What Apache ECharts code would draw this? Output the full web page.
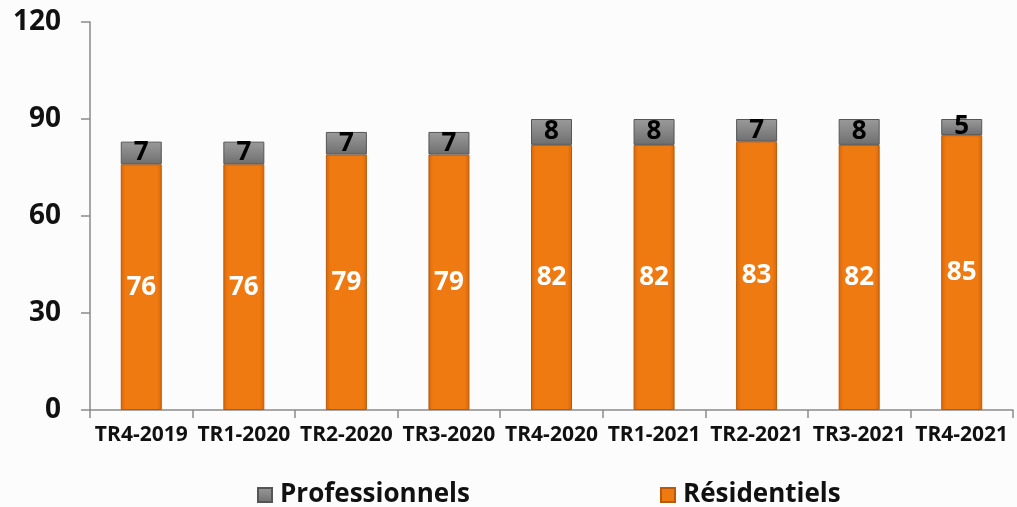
<!DOCTYPE html>
<html><head><meta charset="utf-8">
<script src="https://cdn.jsdelivr.net/npm/echarts@6/dist/echarts.min.js"></script>
<style>html,body{margin:0;padding:0;background:#fcfcfc;}#c{width:1017px;height:507px;}</style>
</head><body><div id="c"></div>
<script>
const categories = ['TR4-2019','TR1-2020','TR2-2020','TR3-2020','TR4-2020','TR1-2021','TR2-2021','TR3-2021','TR4-2021'];
const residentiels = [76,76,79,79,82,82,83,82,85];
const professionnels = [7,7,7,7,8,8,7,8,5];
const yTicks = [0,30,60,90,120];

const FONT = '"Open Sans", "Noto Sans", sans-serif';
const orange = {type:'linear',x:0,y:0,x2:1,y2:0,colorStops:[{offset:0,color:'#d9680a'},{offset:0.12,color:'#f07a12'},{offset:0.88,color:'#f07a12'},{offset:1,color:'#d9680a'}]};
const grey = {type:'linear',x:0,y:0,x2:0,y2:1,colorStops:[{offset:0,color:'#9a9a9a'},{offset:0.5,color:'#858585'},{offset:1,color:'#6e6e6e'}]};

const chart = echarts.init(document.getElementById('c'));
chart.setOption({
  animation:false,
  backgroundColor:'#fcfcfc',
  grid:{left:90,right:4,top:22,bottom:97},
  legend:[
    {data:['Professionnels'],left:252,top:477,itemWidth:14,itemHeight:14,icon:'rect',
     textStyle:{fontFamily:FONT,fontWeight:'bold',fontSize:26,color:'#111',padding:[0,0,0,3]}},
    {data:['Résidentiels'],left:655,top:477,itemWidth:14,itemHeight:14,icon:'rect',
     textStyle:{fontFamily:FONT,fontWeight:'bold',fontSize:26,color:'#111',padding:[0,0,0,3]}}
  ],
  xAxis:{type:'category',data:categories,
    axisLine:{lineStyle:{color:'#8a8a8a',width:1.5}},
    axisTick:{show:true,length:8,lineStyle:{color:'#8a8a8a',width:1.5}},
    axisLabel:{fontFamily:FONT,fontWeight:'bold',fontSize:21,color:'#111',margin:15,interval:0}},
  yAxis:{type:'value',min:0,max:120,interval:30,
    axisLine:{show:true,lineStyle:{color:'#8a8a8a',width:1.5}},
    axisTick:{show:true,length:9,lineStyle:{color:'#8a8a8a',width:1.5}},
    splitLine:{show:false},
    axisLabel:{fontFamily:FONT,fontWeight:'bold',fontSize:28,color:'#111',margin:29,
      formatter:v=>yTicks.includes(v)?String(v):''}},
  series:[
    {name:'Résidentiels',type:'bar',stack:'s',data:residentiels,barWidth:41,
     itemStyle:{color:orange,borderColor:'#b85a08',borderWidth:1},
     label:{show:true,position:'inside',fontFamily:FONT,fontWeight:'bold',fontSize:26,color:'#fff'}},
    {name:'Professionnels',type:'bar',stack:'s',data:professionnels,barWidth:41,
     itemStyle:{color:grey,borderColor:'#555',borderWidth:1},
     label:{show:true,position:'inside',fontFamily:FONT,fontWeight:'bold',fontSize:26,color:'#000'}}
  ]
});
</script></body></html>
